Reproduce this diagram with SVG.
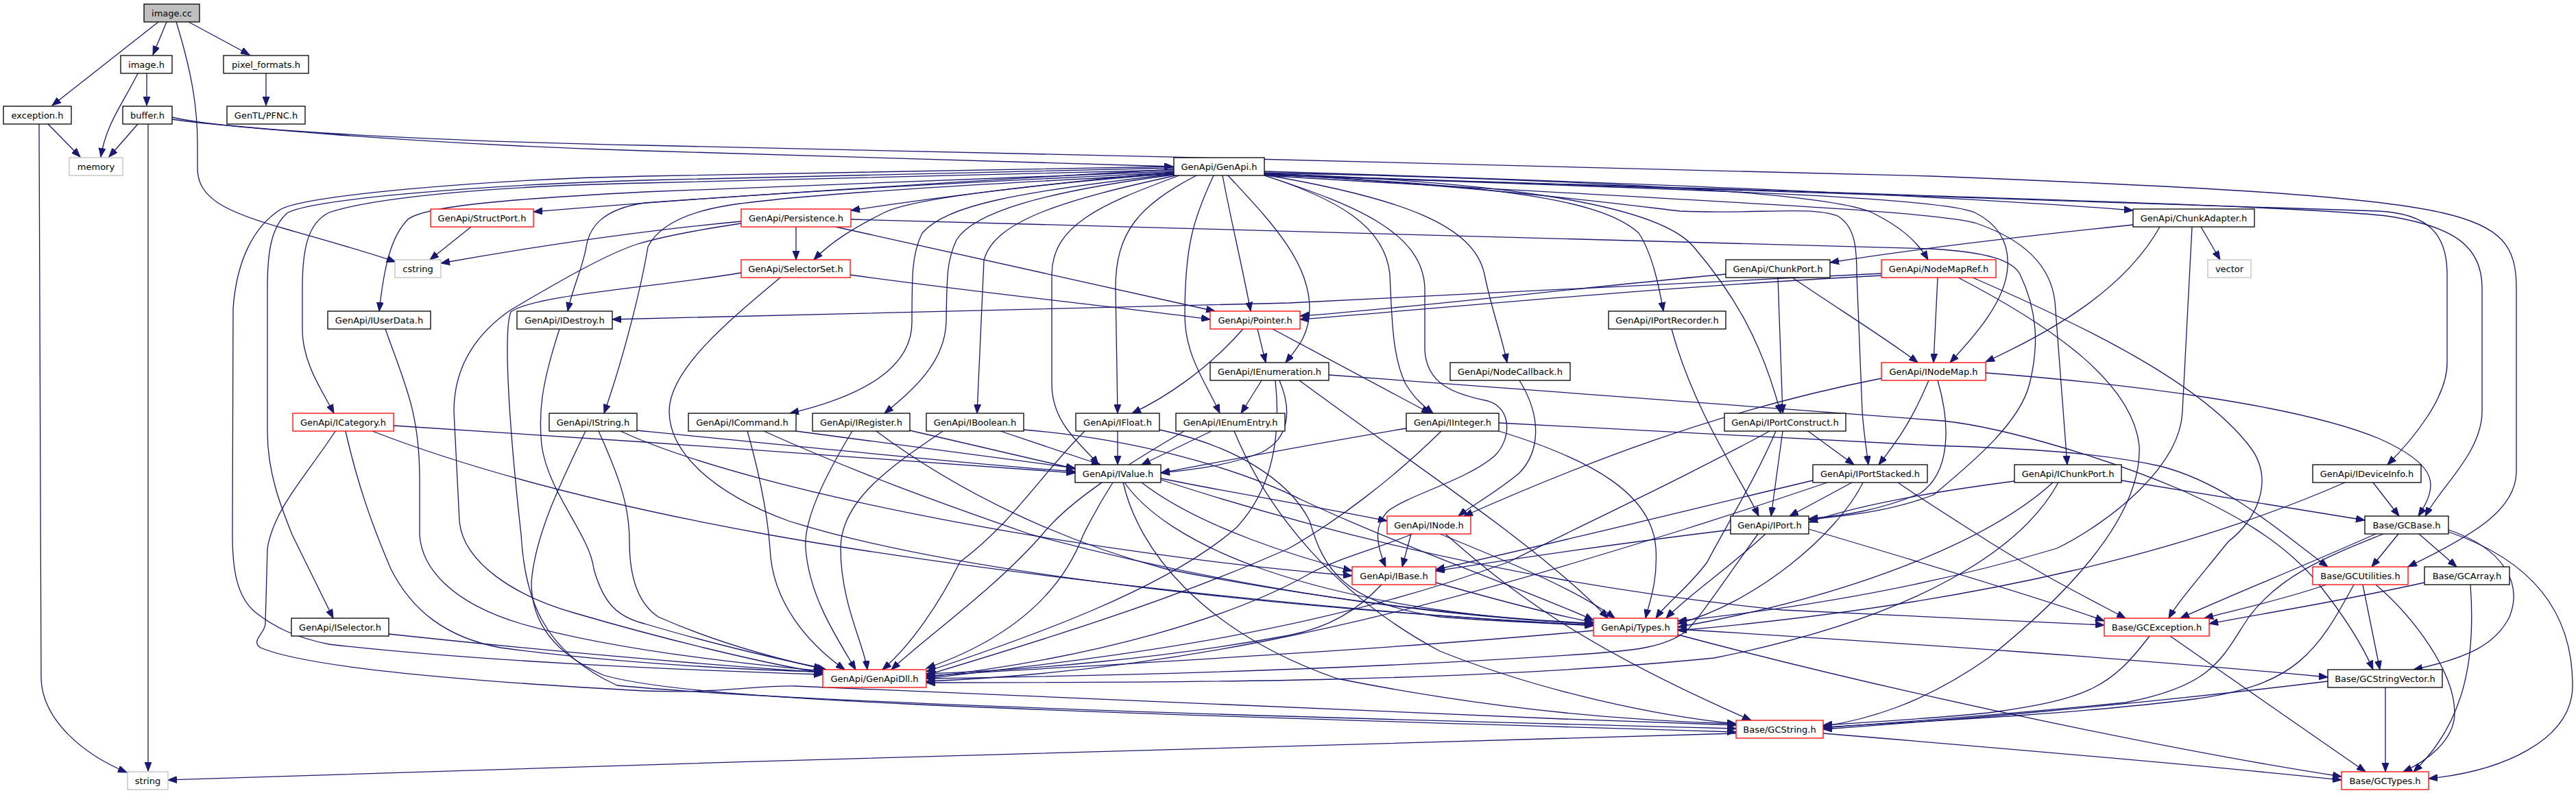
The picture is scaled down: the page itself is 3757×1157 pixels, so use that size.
<svg xmlns="http://www.w3.org/2000/svg" width="3757" height="1157" viewBox="0 0 3757 1157">
<style>
.n rect{fill:#fff;stroke:#000;stroke-width:1.3}
.n.r rect{stroke:#ff0000}
.n.g rect{stroke:#bfbfbf}
.n.c rect{fill:#bfbfbf}
text{font-family:"DejaVu Sans",sans-serif;font-size:13px;text-anchor:middle;fill:#000}
#edges path{fill:none;stroke:#191970;stroke-width:1.3;marker-end:url(#a)}
</style>
<defs>
<marker id="a" markerWidth="14" markerHeight="10" refX="13" refY="5" orient="auto" markerUnits="userSpaceOnUse">
<path d="M0,0 L13,5 L0,10 z" fill="#191970" stroke="#191970" stroke-width="1"/>
</marker>
</defs>
<rect width="3757" height="1157" fill="#fff"/>
<g id="edges">
<path d="M231,32 L76,154"/>
<path d="M243,32 L223,80"/>
<path d="M257,32 C281,110 288,160 288,210 L288,245 C288,290 330,310 420,335 C480,352 530,366 577,382"/>
<path d="M275,32 L364,80"/>
<path d="M201,107 C180,150 155,180 147,229"/>
<path d="M214,107 L214,154"/>
<path d="M388,107 L388,154"/>
<path d="M70,181 L117,229"/>
<path d="M57,181 L60,990 C62,1050 120,1100 185,1127"/>
<path d="M201,181 L159,229"/>
<path d="M216,181 L216,1125"/>
<path d="M251,174 C300,182 600,210 940,220 C1300,232 1550,240 1711,243"/>
<path d="M251,171 C320,188 600,205 940,212 C1500,225 2500,245 2817,257 C3200,272 3450,285 3560,310 C3650,330 3670,360 3670,420 L3670,690 C3668,740 3620,775 3512,827"/>
<path d="M1712,247 C1400,265 1000,290 778,309"/>
<path d="M1712,251 C1550,265 1350,290 1241,307"/>
<path d="M1712,253 C1500,270 1330,290 1290,310 C1240,335 1210,355 1187,379"/>
<path d="M1712,254 C1480,280 1380,300 1345,340 C1330,370 1330,400 1330,470 C1330,540 1250,580 1152,603"/>
<path d="M1712,255 C1520,280 1420,310 1395,350 C1381,380 1381,400 1380,470 C1378,530 1330,570 1290,603"/>
<path d="M1715,256 C1560,290 1450,320 1435,380 L1425,603"/>
<path d="M1720,256 C1600,300 1535,330 1534,400 L1534,560 C1534,620 1580,650 1602,678"/>
<path d="M1745,256 C1660,300 1627,340 1627,420 L1630,603"/>
<path d="M1770,256 C1740,320 1728,360 1728,460 C1728,520 1760,560 1779,603"/>
<path d="M1783,256 C1795,320 1812,390 1824,454"/>
<path d="M1791,256 C1850,320 1910,380 1910,450 C1910,490 1890,510 1875,529"/>
<path d="M1844,256 C1950,290 2020,330 2027,400 C2030,460 2030,520 2050,560 C2065,585 2080,595 2090,603"/>
<path d="M1844,256 C1980,300 2075,340 2078,420 L2078,510 C2080,560 2120,575 2170,585 C2205,595 2205,640 2180,665 C2140,700 2060,720 2025,745 C2005,765 2005,790 2021,827"/>
<path d="M1844,255 C2050,290 2150,330 2165,400 C2175,450 2190,490 2198,529"/>
<path d="M1844,254 C2150,270 2330,285 2390,340 C2410,370 2420,420 2426,454"/>
<path d="M1844,253 C2200,265 2420,300 2470,360 C2530,430 2570,500 2597,603"/>
<path d="M1844,252 C2300,262 2660,280 2730,310 C2770,330 2795,350 2812,379"/>
<path d="M1844,253 C2200,275 2380,300 2450,308 C2560,313 2640,300 2680,315 C2705,330 2708,360 2708,400 L2716,600 C2718,630 2722,655 2725,678"/>
<path d="M1844,255 C2400,275 2820,285 2880,310 C2920,330 2930,360 2928,390 C2925,440 2880,490 2844,529"/>
<path d="M1844,256 C2400,290 2800,305 2880,325 C2940,345 2990,380 2997,440 L3015,678"/>
<path d="M1844,255 C2700,285 3300,305 3470,308 C3540,312 3569,340 3569,400 L3569,530 C3569,580 3520,640 3482,678"/>
<path d="M1844,255 C2800,285 3350,300 3480,315 C3580,330 3620,360 3620,420 L3620,600 C3620,660 3560,710 3537,753"/>
<path d="M1844,250 C2500,270 2900,290 3111,307"/>
<path d="M1712,243 C1400,250 1100,252 940,257 C700,262 450,285 410,305 C370,330 345,380 340,450 L339,780 C339,830 345,870 372,893 C400,915 430,930 480,940 C700,965 1000,978 1200,984"/>
<path d="M1712,245 C1400,252 1100,258 940,263 C700,270 460,290 420,310 C395,330 390,370 390,420 L390,630 C390,690 410,740 426,780 L486,902"/>
<path d="M1712,248 C1400,255 1100,262 940,267 C700,272 540,290 480,310 C450,325 441,360 441,420 L441,480 C441,530 470,570 487,603"/>
<path d="M1712,250 C1400,262 1100,275 940,280 C750,290 620,300 595,320 C570,345 560,390 553,454"/>
<path d="M1712,252 C1300,270 1050,288 940,296 C880,305 860,330 855,360 C850,390 835,420 828,454"/>
<path d="M1712,254 C1400,270 1150,285 1060,300 C1000,310 960,330 945,360 C935,420 910,520 881,603"/>
<path d="M687,331 L627,379"/>
<path d="M1081,323 C900,340 750,365 643,384"/>
<path d="M1161,331 L1161,379"/>
<path d="M1219,331 L1772,454"/>
<path d="M1081,326 C1000,338 960,347 930,356 C880,372 800,420 745,452 C690,490 662,540 662,600 L670,760 C675,820 750,870 840,895 C960,930 1100,965 1200,982"/>
<path d="M1241,320 C1800,335 2500,355 2817,363 C2900,368 2935,380 2946,400 C2970,450 2975,500 2960,560 C2945,620 2870,680 2820,722 C2760,745 2700,752 2638,758"/>
<path d="M1240,401 C1450,430 1650,450 1765,466"/>
<path d="M1081,398 C950,420 780,430 745,455 C735,480 740,600 760,780 C765,870 790,950 900,1000 C1100,1020 1600,1040 2532,1063"/>
<path d="M1138,405 C1060,470 976,540 976,600 C976,660 1040,720 1150,760 C1400,840 1900,890 2324,912"/>
<path d="M3111,328 C2900,350 2750,370 2669,383"/>
<path d="M3150,331 C3100,420 3000,480 2896,528"/>
<path d="M3197,331 L3183,600 C3180,680 3080,760 3000,800 C2800,860 2600,890 2447,906"/>
<path d="M3210,331 L3238,379"/>
<path d="M2517,400 C2300,420 2050,450 1896,461"/>
<path d="M2593,405 L2600,603"/>
<path d="M2614,405 C2680,450 2760,500 2797,529"/>
<path d="M2826,405 L2820,529"/>
<path d="M2744,402 C2400,420 2100,450 1896,466"/>
<path d="M2744,399 C2400,415 2100,432 1880,442 C1500,452 1150,460 893,466"/>
<path d="M2877,405 C3050,480 3210,560 3280,650 C3320,700 3290,760 3250,790 C3210,840 3175,880 3163,902"/>
<path d="M2856,405 C3000,480 3110,560 3120,650 C3125,760 3000,880 2900,960 C2800,1030 2720,1050 2659,1060"/>
<path d="M562,480 C590,560 612,600 612,700 L612,780 C615,830 660,880 760,910 C900,950 1100,970 1200,979"/>
<path d="M816,480 C790,560 785,600 790,650 C800,720 860,780 866,830 C880,880 900,900 940,910 C1040,940 1150,965 1200,975"/>
<path d="M1834,480 L1846,529"/>
<path d="M1813,480 C1760,540 1700,580 1651,603"/>
<path d="M1856,480 L2086,603"/>
<path d="M2438,480 C2470,600 2540,700 2565,753"/>
<path d="M1840,555 L1810,603"/>
<path d="M1866,555 C1885,600 1880,640 1840,660 C1790,680 1740,685 1693,690"/>
<path d="M1938,547 L2820,613 C2900,618 3050,660 3177,713 C3260,750 3330,790 3380,850 C3420,900 3445,940 3461,977"/>
<path d="M1895,555 C2050,670 2250,800 2345,902"/>
<path d="M1860,555 C1870,650 1850,720 1803,770 C1700,860 1500,930 1351,980"/>
<path d="M2216,555 C2250,610 2245,660 2216,690 C2180,720 2150,735 2127,753"/>
<path d="M2813,555 C2790,610 2770,640 2740,678"/>
<path d="M2744,552 C2500,600 2300,680 2135,753"/>
<path d="M2826,555 C2845,620 2845,690 2800,720 C2740,745 2690,752 2638,757"/>
<path d="M2896,544 C3100,560 3350,590 3470,640 C3560,680 3555,710 3527,753"/>
<path d="M574,621 L940,645 C1200,662 1400,678 1568,690"/>
<path d="M489,629 C450,690 400,740 390,800 L387,910 C386,925 365,935 380,945 C450,975 700,995 940,1008 C1050,1012 1100,1000 1160,1001 C1400,1012 2000,1040 2532,1058"/>
<path d="M504,629 C520,700 540,760 570,830 C600,890 650,930 730,945 C900,968 1100,978 1200,980"/>
<path d="M543,629 C700,690 900,740 1120,780 C1400,830 1900,890 2324,913"/>
<path d="M929,628 C1200,655 1450,680 1568,688"/>
<path d="M905,629 C1100,720 1600,810 1972,840"/>
<path d="M854,629 C820,700 780,780 775,850 C775,900 800,950 880,985 C1000,1020 1400,1035 2532,1068"/>
<path d="M873,629 C905,700 918,740 918,790 C918,840 930,880 960,900 C1050,940 1150,965 1205,977"/>
<path d="M1161,629 L1568,683"/>
<path d="M1090,629 C1110,700 1120,760 1123,800 C1126,880 1180,940 1232,977"/>
<path d="M1114,629 C1250,690 1360,730 1504,780 C1800,860 2100,900 2324,910"/>
<path d="M1327,628 L1568,684"/>
<path d="M1243,629 C1200,700 1172,760 1175,800 C1180,870 1220,930 1248,977"/>
<path d="M1278,629 C1400,720 1550,790 1700,830 C1950,880 2200,905 2324,909"/>
<path d="M1459,629 L1605,678"/>
<path d="M1375,629 C1300,680 1226,730 1226,800 C1226,880 1260,940 1265,977"/>
<path d="M1493,627 C1650,640 1800,680 1900,730 C2050,800 2250,870 2324,905"/>
<path d="M1630,629 L1630,678"/>
<path d="M1582,629 C1520,690 1480,760 1400,820 C1370,880 1330,940 1287,977"/>
<path d="M1691,627 C1800,650 1880,700 1910,760 C1930,830 1960,880 2100,900 C2200,908 2280,910 2324,912"/>
<path d="M1767,629 L1665,678"/>
<path d="M1727,629 C1640,680 1560,730 1520,780 C1450,860 1350,930 1300,977"/>
<path d="M1800,629 C1850,750 1950,870 2100,950 C2250,1010 2420,1045 2532,1056"/>
<path d="M2051,625 C1900,650 1800,670 1693,690"/>
<path d="M2186,629 C2320,670 2410,720 2415,800 C2418,850 2405,880 2400,902"/>
<path d="M2102,629 C2030,700 1950,760 1880,800 C1700,880 1500,940 1351,985"/>
<path d="M2186,617 L2820,650 C2950,654 3060,660 3150,680 C3250,705 3330,780 3395,827"/>
<path d="M2637,629 L2704,678"/>
<path d="M2600,629 L2583,753"/>
<path d="M2581,629 C2450,700 2320,760 2200,820 C1900,930 1600,960 1351,990"/>
<path d="M2590,629 C2560,700 2510,780 2490,820 C2460,860 2430,880 2415,902"/>
<path d="M1693,698 C1800,720 1900,735 2023,760"/>
<path d="M1665,704 C1750,770 1900,815 1972,833"/>
<path d="M1640,704 C1700,790 1900,890 2324,910"/>
<path d="M1623,704 C1600,740 1590,760 1580,780 C1550,860 1480,930 1351,975"/>
<path d="M1638,704 C1660,800 1750,920 1950,990 C2200,1040 2400,1052 2532,1056"/>
<path d="M1693,700 C2000,800 2300,860 2600,890 C2800,900 2950,905 3069,912"/>
<path d="M2701,704 L2610,753"/>
<path d="M2717,704 C2680,780 2560,880 2447,910"/>
<path d="M2665,704 C2500,760 2400,790 2300,820 C2000,910 1700,980 1351,994"/>
<path d="M2768,704 C2820,740 2870,770 2900,790 C2980,840 3040,870 3100,902"/>
<path d="M2644,701 C2500,735 2300,785 2094,831"/>
<path d="M3094,701 L3449,759"/>
<path d="M2938,702 C2800,720 2700,740 2638,762"/>
<path d="M2994,704 C2900,790 2700,870 2447,915"/>
<path d="M3002,704 C2950,800 2800,900 2500,960 C2100,1000 1600,995 1351,996"/>
<path d="M3461,704 L3499,753"/>
<path d="M3420,704 C3200,800 2900,880 2447,920"/>
<path d="M2058,779 L2045,827"/>
<path d="M2100,779 C2200,820 2300,860 2355,902"/>
<path d="M2060,779 C2010,800 1950,815 1910,837 C1800,900 1600,960 1351,988"/>
<path d="M2108,779 C2200,860 2300,940 2554,1051"/>
<path d="M2524,773 C2300,800 2150,825 2094,833"/>
<path d="M2575,779 C2520,830 2460,870 2430,902"/>
<path d="M2564,779 C2520,840 2480,900 2460,920 C2430,945 2380,950 2300,955 C2000,975 1700,985 1351,990"/>
<path d="M2638,772 C2800,820 3000,880 3069,906"/>
<path d="M3465,779 C3350,830 3250,870 3180,902"/>
<path d="M3498,779 L3459,827"/>
<path d="M3528,779 L3583,827"/>
<path d="M3571,773 C3650,800 3680,850 3660,900 C3640,940 3600,960 3520,977"/>
<path d="M3571,776 C3700,820 3752,900 3752,1000 C3752,1080 3650,1125 3542,1136"/>
<path d="M3476,779 C3400,810 3327,837 3280,900 C3240,960 3230,1000 3100,1025 C2900,1045 2750,1055 2659,1062"/>
<path d="M2094,850 C2200,880 2280,900 2324,908"/>
<path d="M2015,853 C1980,890 1940,915 1880,927 C1700,960 1500,978 1351,983"/>
<path d="M3393,853 C3330,875 3260,890 3215,902"/>
<path d="M3446,853 L3471,977"/>
<path d="M3465,853 C3520,900 3580,980 3580,1040 C3580,1080 3540,1110 3505,1126"/>
<path d="M3433,853 C3380,950 3350,1000 3200,1020 C3000,1045 2750,1055 2659,1061"/>
<path d="M3536,850 C3400,880 3300,895 3222,910"/>
<path d="M3603,853 C3610,950 3600,1050 3520,1126"/>
<path d="M567,925 C800,950 1000,968 1200,981"/>
<path d="M2324,920 C2000,950 1600,970 1351,986"/>
<path d="M2447,918 C2800,940 3100,960 3395,988"/>
<path d="M2447,926 C2800,1020 3200,1100 3415,1133"/>
<path d="M3135,928 C3080,1000 3050,1020 2900,1040 C2800,1050 2700,1055 2659,1058"/>
<path d="M3165,928 L3450,1126"/>
<path d="M3395,994 C3100,1030 2850,1050 2659,1064"/>
<path d="M3479,1003 L3479,1126"/>
<path d="M2532,1070 C2000,1090 1000,1110 245,1138"/>
<path d="M2659,1070 C2900,1090 3200,1115 3415,1138"/>
</g>
<g id="n-image-cc" class="n c"><rect x="210" y="6" width="81" height="26"/><text x="250.5" y="24">image.cc</text></g>
<g id="n-image-h" class="n"><rect x="176" y="81" width="75" height="26"/><text x="213.5" y="99">image.h</text></g>
<g id="n-pixel-formats" class="n"><rect x="326" y="81" width="124" height="26"/><text x="388" y="99">pixel_formats.h</text></g>
<g id="n-exception" class="n"><rect x="5" y="155" width="99" height="26"/><text x="54.5" y="173">exception.h</text></g>
<g id="n-buffer" class="n"><rect x="179" y="155" width="72" height="26"/><text x="215" y="173">buffer.h</text></g>
<g id="n-pfnc" class="n"><rect x="331" y="155" width="114" height="26"/><text x="388" y="173">GenTL/PFNC.h</text></g>
<g id="n-memory" class="n g"><rect x="101" y="230" width="78" height="26"/><text x="140" y="248">memory</text></g>
<g id="n-genapi" class="n"><rect x="1712" y="230" width="132" height="26"/><text x="1778" y="248">GenApi/GenApi.h</text></g>
<g id="n-structport" class="n r"><rect x="628" y="305" width="150" height="26"/><text x="703" y="323">GenApi/StructPort.h</text></g>
<g id="n-persistence" class="n r"><rect x="1081" y="305" width="160" height="26"/><text x="1161" y="323">GenApi/Persistence.h</text></g>
<g id="n-chunkadapter" class="n"><rect x="3111" y="305" width="177" height="26"/><text x="3199.5" y="323">GenApi/ChunkAdapter.h</text></g>
<g id="n-cstring" class="n g"><rect x="576" y="379" width="67" height="26"/><text x="609.5" y="397">cstring</text></g>
<g id="n-selectorset" class="n r"><rect x="1081" y="379" width="159" height="26"/><text x="1160.5" y="397">GenApi/SelectorSet.h</text></g>
<g id="n-chunkport" class="n"><rect x="2517" y="379" width="152" height="26"/><text x="2593" y="397">GenApi/ChunkPort.h</text></g>
<g id="n-nodemapref" class="n r"><rect x="2744" y="379" width="167" height="26"/><text x="2827.5" y="397">GenApi/NodeMapRef.h</text></g>
<g id="n-vector" class="n g"><rect x="3220" y="379" width="63" height="26"/><text x="3251.5" y="397">vector</text></g>
<g id="n-iuserdata" class="n"><rect x="478" y="454" width="150" height="26"/><text x="553" y="472">GenApi/IUserData.h</text></g>
<g id="n-idestroy" class="n"><rect x="754" y="454" width="139" height="26"/><text x="823.5" y="472">GenApi/IDestroy.h</text></g>
<g id="n-pointer" class="n r"><rect x="1765" y="454" width="131" height="26"/><text x="1830.5" y="472">GenApi/Pointer.h</text></g>
<g id="n-iportrecorder" class="n"><rect x="2346" y="454" width="171" height="26"/><text x="2431.5" y="472">GenApi/IPortRecorder.h</text></g>
<g id="n-ienumeration" class="n"><rect x="1765" y="529" width="173" height="26"/><text x="1851.5" y="547">GenApi/IEnumeration.h</text></g>
<g id="n-nodecallback" class="n"><rect x="2115" y="529" width="175" height="26"/><text x="2202.5" y="547">GenApi/NodeCallback.h</text></g>
<g id="n-inodemap" class="n r"><rect x="2744" y="529" width="152" height="26"/><text x="2820" y="547">GenApi/INodeMap.h</text></g>
<g id="n-icategory" class="n r"><rect x="427" y="603" width="147" height="26"/><text x="500.5" y="621">GenApi/ICategory.h</text></g>
<g id="n-istring" class="n"><rect x="801" y="603" width="128" height="26"/><text x="865" y="621">GenApi/IString.h</text></g>
<g id="n-icommand" class="n"><rect x="1004" y="603" width="157" height="26"/><text x="1082.5" y="621">GenApi/ICommand.h</text></g>
<g id="n-iregister" class="n"><rect x="1185" y="603" width="142" height="26"/><text x="1256" y="621">GenApi/IRegister.h</text></g>
<g id="n-iboolean" class="n"><rect x="1351" y="603" width="142" height="26"/><text x="1422" y="621">GenApi/IBoolean.h</text></g>
<g id="n-ifloat" class="n"><rect x="1569" y="603" width="122" height="26"/><text x="1630" y="621">GenApi/IFloat.h</text></g>
<g id="n-ienumentry" class="n"><rect x="1715" y="603" width="159" height="26"/><text x="1794.5" y="621">GenApi/IEnumEntry.h</text></g>
<g id="n-iinteger" class="n"><rect x="2051" y="603" width="135" height="26"/><text x="2118.5" y="621">GenApi/IInteger.h</text></g>
<g id="n-iportconstruct" class="n"><rect x="2515" y="603" width="177" height="26"/><text x="2603.5" y="621">GenApi/IPortConstruct.h</text></g>
<g id="n-ivalue" class="n"><rect x="1568" y="678" width="125" height="26"/><text x="1630.5" y="696">GenApi/IValue.h</text></g>
<g id="n-iportstacked" class="n"><rect x="2644" y="678" width="167" height="26"/><text x="2727.5" y="696">GenApi/IPortStacked.h</text></g>
<g id="n-ichunkport" class="n"><rect x="2938" y="678" width="156" height="26"/><text x="3016" y="696">GenApi/IChunkPort.h</text></g>
<g id="n-ideviceinfo" class="n"><rect x="3373" y="678" width="158" height="26"/><text x="3452" y="696">GenApi/IDeviceInfo.h</text></g>
<g id="n-inode" class="n r"><rect x="2023" y="753" width="122" height="26"/><text x="2084" y="771">GenApi/INode.h</text></g>
<g id="n-iport" class="n"><rect x="2524" y="753" width="114" height="26"/><text x="2581" y="771">GenApi/IPort.h</text></g>
<g id="n-gcbase" class="n"><rect x="3449" y="753" width="122" height="26"/><text x="3510" y="771">Base/GCBase.h</text></g>
<g id="n-ibase" class="n r"><rect x="1972" y="827" width="122" height="26"/><text x="2033" y="845">GenApi/IBase.h</text></g>
<g id="n-gcutilities" class="n r"><rect x="3373" y="827" width="139" height="26"/><text x="3442.5" y="845">Base/GCUtilities.h</text></g>
<g id="n-gcarray" class="n"><rect x="3536" y="827" width="124" height="26"/><text x="3598" y="845">Base/GCArray.h</text></g>
<g id="n-iselector" class="n"><rect x="425" y="902" width="142" height="26"/><text x="496" y="920">GenApi/ISelector.h</text></g>
<g id="n-types" class="n r"><rect x="2324" y="902" width="123" height="26"/><text x="2385.5" y="920">GenApi/Types.h</text></g>
<g id="n-gcexception" class="n r"><rect x="3069" y="902" width="153" height="26"/><text x="3145.5" y="920">Base/GCException.h</text></g>
<g id="n-genapidll" class="n r"><rect x="1200" y="977" width="151" height="26"/><text x="1275.5" y="995">GenApi/GenApiDll.h</text></g>
<g id="n-gcstringvector" class="n"><rect x="3395" y="977" width="167" height="26"/><text x="3478.5" y="995">Base/GCStringVector.h</text></g>
<g id="n-gcstring" class="n r"><rect x="2532" y="1051" width="127" height="26"/><text x="2595.5" y="1069">Base/GCString.h</text></g>
<g id="n-string" class="n g"><rect x="186" y="1126" width="59" height="26"/><text x="215.5" y="1144">string</text></g>
<g id="n-gctypes" class="n r"><rect x="3415" y="1126" width="127" height="26"/><text x="3478.5" y="1144">Base/GCTypes.h</text></g>
</svg>
